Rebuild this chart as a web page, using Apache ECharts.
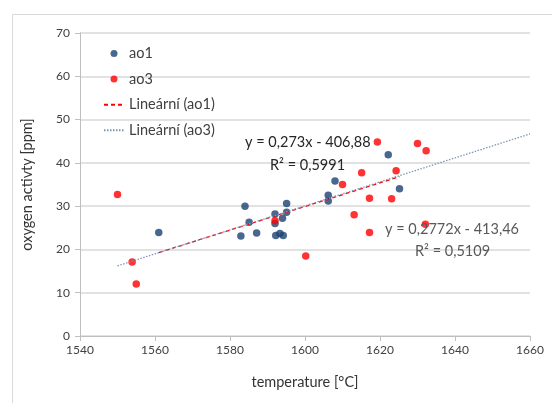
<!DOCTYPE html>
<html>
<head>
<meta charset="utf-8">
<script src="https://cdn.jsdelivr.net/npm/echarts@6/dist/echarts.min.js"></script>
<style>html,body{margin:0;padding:0;background:#fff}#c{width:552px;height:403px}</style>
</head>
<body>
<div id="c"></div>
<script>
// ---- data ----
var ao1 = [
  [1561.0, 23.9], [1584.0, 30.0], [1585.1, 26.3], [1582.9, 23.1], [1587.1, 23.8],
  [1592.0, 28.2], [1592.0, 26.0], [1592.2, 23.2], [1593.3, 23.7], [1594.2, 23.2],
  [1594.0, 27.2], [1595.1, 30.6], [1595.1, 28.6], [1606.2, 32.5], [1606.2, 31.2],
  [1608.0, 35.8], [1622.2, 41.9], [1625.2, 34.0]
];
var ao3 = [
  [1550.0, 32.7], [1553.9, 17.1], [1555.0, 12.0], [1592.0, 26.6], [1600.2, 18.5],
  [1610.0, 35.0], [1613.1, 28.0], [1615.1, 37.7], [1617.2, 31.8], [1617.2, 23.9],
  [1619.3, 44.8], [1623.1, 31.7], [1624.3, 38.2], [1630.0, 44.5], [1632.3, 42.8],
  [1632.1, 25.8]
];
// printed trendline equations (slope, intercept) and their x extents
var trend1 = { slope: 0.273, intercept: -406.88, from: 1561.0, to: 1625.2 };
var trend3 = { slope: 0.2772, intercept: -413.46, from: 1550.0, to: 1660 };
var eq1 = ['y = 0,273x - 406,88', 'R² = 0,5991'];
var eq3 = ['y = 0,2772x - 413,46', 'R² = 0,5109'];
var seriesNames = ['ao1', 'ao3', 'Lineární (ao1)', 'Lineární (ao3)'];
var xTicks = { min: 1540, max: 1660, interval: 20 };
var yTicks = { min: 0, max: 70, interval: 10 };

function trendPts(t) {
  return [[t.from, t.slope * t.from + t.intercept], [t.to, t.slope * t.to + t.intercept]];
}

var FONT = 'Lato, "Open Sans", "Liberation Sans", sans-serif';
var hiddenSym = { color: 'rgba(0,0,0,0)', opacity: 0, borderWidth: 0 };
var chart = echarts.init(document.getElementById('c'), null, { renderer: 'canvas' });
chart.setOption({
  animation: false,
  backgroundColor: '#fff',
  textStyle: { fontFamily: FONT },
  grid: { left: 80, right: 22, top: 33, bottom: 67, containLabel: false },
  legend: {
    orient: 'vertical', left: 98, top: 41,
    itemWidth: 20, itemHeight: 7, itemGap: 10.6,
    textStyle: { fontFamily: FONT, fontSize: 14.5, color: '#404040' },
    data: [
      { name: seriesNames[0] },
      { name: seriesNames[1] },
      { name: seriesNames[2], itemStyle: hiddenSym },
      { name: seriesNames[3], itemStyle: hiddenSym }
    ]
  },
  xAxis: {
    type: 'value', min: xTicks.min, max: xTicks.max, interval: xTicks.interval,
    name: 'temperature [°C]', nameLocation: 'middle', nameGap: 39,
    nameTextStyle: { fontFamily: FONT, fontSize: 14.5, color: '#333' },
    axisLine: { show: true, lineStyle: { color: '#bfbfbf', width: 1 } },
    axisTick: { show: true, length: 5, lineStyle: { color: '#bfbfbf' } },
    axisLabel: { fontFamily: FONT, fontSize: 12, color: '#404040', margin: 8,
      formatter: function (v) { return String(v); } },
    splitLine: { show: false }
  },
  yAxis: {
    type: 'value', min: yTicks.min, max: yTicks.max, interval: yTicks.interval,
    name: 'oxygen activty [ppm]', nameLocation: 'middle', nameGap: 45,
    nameTextStyle: { fontFamily: FONT, fontSize: 14.5, color: '#333' },
    axisLine: { show: true, lineStyle: { color: '#bfbfbf', width: 1 } },
    axisTick: { show: true, length: 5, lineStyle: { color: '#bfbfbf' } },
    axisLabel: { fontFamily: FONT, fontSize: 12, color: '#404040', margin: 10 },
    splitLine: { show: true, lineStyle: { color: '#d9d9d9', width: 1.5 } }
  },
  series: [
    { name: seriesNames[0], type: 'scatter', data: ao1, symbolSize: 7.5,
      itemStyle: { color: '#1c4274' } },
    { name: seriesNames[1], type: 'scatter', data: ao3, symbolSize: 7.5,
      itemStyle: { color: '#ff0000' } },
    { name: seriesNames[2], type: 'line', data: trendPts(trend1), symbol: 'none',
      itemStyle: { color: '#ff0000' },
      lineStyle: { color: '#ff0000', width: 1.3, type: [4, 3] } },
    { name: seriesNames[3], type: 'line', data: trendPts(trend3), symbol: 'none',
      itemStyle: { color: '#7d93b8' },
      lineStyle: { color: '#7d93b8', width: 1.3, type: [1.5, 1.5] } }
  ],
  graphic: [
    { type: 'rect', left: 10, top: 12, shape: { width: 600, height: 450 },
      style: { fill: 'none', stroke: '#d9d9d9', lineWidth: 1 }, silent: true, z: -10 },
    { type: 'text', x: 245, y: 142, z: 100,
      style: { text: eq1[0], fontFamily: FONT, fontSize: 14.5, fill: '#262626', verticalAlign: 'middle' } },
    { type: 'text', x: 270, y: 165, z: 100,
      style: { text: eq1[1], fontFamily: FONT, fontSize: 14.5, fill: '#262626', verticalAlign: 'middle' } },
    { type: 'text', x: 385, y: 229, z: 100,
      style: { text: eq3[0], fontFamily: FONT, fontSize: 14.5, fill: '#595959', verticalAlign: 'middle' } },
    { type: 'text', x: 415, y: 251, z: 100,
      style: { text: eq3[1], fontFamily: FONT, fontSize: 14.5, fill: '#595959', verticalAlign: 'middle' } }
  ]
});
</script>
</body>
</html>
